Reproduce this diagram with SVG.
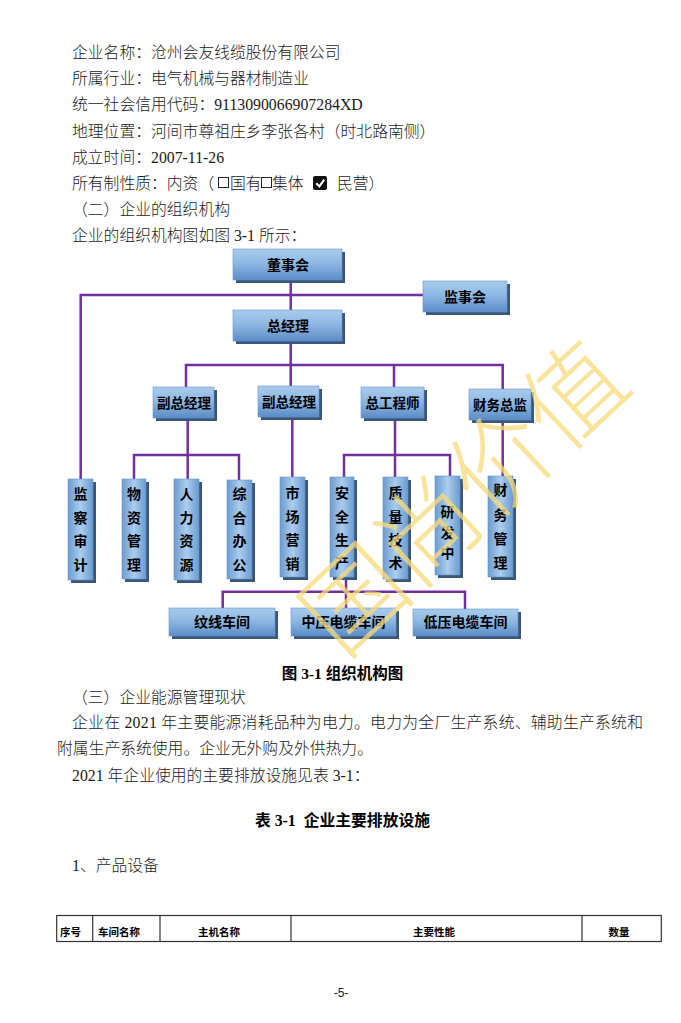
<svg xmlns="http://www.w3.org/2000/svg" width="681" height="1023" viewBox="0 0 681 1023">
<style>
.t{font-family:'Liberation Serif','Noto Sans CJK SC',serif;font-size:15.8px;font-weight:300;fill:#1a1a1a}
.b{font-family:'Liberation Serif','Noto Sans CJK SC',serif;font-size:15.5px;font-weight:700;fill:#000}
.lbl{font-family:'Noto Sans CJK SC',sans-serif;font-size:14px;font-weight:700;fill:#000;text-anchor:middle}
.lbs{font-family:'Noto Sans CJK SC',sans-serif;font-size:13.5px;font-weight:700;fill:#000;text-anchor:middle}
.th{font-family:'Noto Sans CJK SC',sans-serif;font-size:10.5px;font-weight:700;fill:#000}
.conn{stroke:#7030A0;stroke-width:2.5;fill:none}
.sh{fill:#3a5678}
.hb{fill:url(#gh);stroke:#6a95c8;stroke-width:0.6}
.vb{fill:url(#gv);stroke:#6a95c8;stroke-width:0.6}
.grid{stroke:#333;stroke-width:1.2;fill:none}
.wm{font-family:'Noto Sans CJK SC',sans-serif;font-size:100px;font-weight:300;fill:#F9DC7A;opacity:0.75}
</style>
<defs>
<linearGradient id="gh" x1="0" y1="0" x2="0" y2="1">
<stop offset="0" stop-color="#a9cbec"/>
<stop offset="0.45" stop-color="#8eb9e4"/>
<stop offset="1" stop-color="#5b8cc6"/>
</linearGradient>
<linearGradient id="gv" x1="0" y1="0" x2="1" y2="0">
<stop offset="0" stop-color="#6b9bd0"/>
<stop offset="0.5" stop-color="#abcdee"/>
<stop offset="1" stop-color="#6b9bd0"/>
</linearGradient>
</defs>
<rect width="681" height="1023" fill="#fff"/>

<g id="intro">
<text class="t" x="72" y="58">企业名称：沧州会友线缆股份有限公司</text>
<text class="t" x="72" y="84">所属行业：电气机械与器材制造业</text>
<text class="t" x="72" y="110">统一社会信用代码：9113090066907284XD</text>
<text class="t" x="72" y="136.5">地理位置：河间市尊祖庄乡李张各村（时北路南侧）</text>
<text class="t" x="72" y="162.5">成立时间：2007-11-26</text>
<text class="t" x="72" y="189">所有制性质：内资（</text>
<rect x="218.5" y="177.5" width="10" height="10" fill="none" stroke="#222" stroke-width="1"/>
<text class="t" x="230" y="189">国有</text>
<rect x="261.5" y="177.5" width="10" height="10" fill="none" stroke="#222" stroke-width="1"/>
<text class="t" x="272" y="189">集体</text>
<rect x="313" y="176" width="14" height="14" rx="2" fill="#111"/>
<path d="M316.3,183.2 L319.4,186.4 L324.2,179.6" stroke="#fff" stroke-width="2" fill="none"/>
<text class="t" x="337" y="189">民营）</text>
<text class="t" x="72" y="215">（二）企业的组织机构</text>
<text class="t" x="72" y="241">企业的组织机构图如图 3-1 所示：</text>
</g>

<g id="connectors">
<path class="conn" d="M80.7,479 V295 H423"/>
<path class="conn" d="M290.7,280 V310"/>
<path class="conn" d="M290.7,341 V365"/>
<path class="conn" d="M186,387 V365 H502.7 V389"/>
<path class="conn" d="M290.7,365 V386"/>
<path class="conn" d="M394,365 V387"/>
<path class="conn" d="M187.7,418 V455"/>
<path class="conn" d="M134,479 V455 H239 V480"/>
<path class="conn" d="M187.7,455 V479"/>
<path class="conn" d="M292.3,417 V477"/>
<path class="conn" d="M395,418 V477"/>
<path class="conn" d="M344,477 V455 H450 V476"/>
<path class="conn" d="M502.7,420 V476"/>
<path class="conn" d="M346,577 V608"/>
<path class="conn" d="M222.7,608 V591.7 H465 V609"/>
</g>

<g id="n-dongshihui"><rect class="sh" x="236" y="252" width="109" height="31"/><rect class="hb" x="233" y="249" width="109" height="31"/><text class="lbl" x="288" y="270">董事会</text></g>
<g id="n-jianshihui"><rect class="sh" x="426" y="284" width="84" height="31"/><rect class="hb" x="423" y="281" width="84" height="31"/><text class="lbl" x="465" y="302">监事会</text></g>
<g id="n-zongjingli"><rect class="sh" x="236" y="313" width="109" height="31"/><rect class="hb" x="233" y="310" width="109" height="31"/><text class="lbl" x="288" y="331">总经理</text></g>
<g id="n-fuzong1"><rect class="sh" x="156" y="390" width="61" height="31"/><rect class="hb" x="153" y="387" width="61" height="31"/><text class="lbs" x="184" y="408">副总经理</text></g>
<g id="n-fuzong2"><rect class="sh" x="261" y="389" width="61" height="31"/><rect class="hb" x="258" y="386" width="61" height="31"/><text class="lbs" x="289" y="407">副总经理</text></g>
<g id="n-zonggong"><rect class="sh" x="364" y="390" width="63" height="31"/><rect class="hb" x="361" y="387" width="63" height="31"/><text class="lbs" x="392.5" y="408">总工程师</text></g>
<g id="n-caiwuzongjian"><rect class="sh" x="472" y="392" width="62" height="31"/><rect class="hb" x="469" y="389" width="62" height="31"/><text class="lbs" x="500" y="410">财务总监</text></g>

<g id="n-jiancha"><rect class="sh" x="71" y="482" width="25" height="101"/><rect class="vb" x="68" y="479" width="25" height="101"/><text class="lbl"><tspan x="80.5" y="499">监</tspan><tspan x="80.5" y="522.5">察</tspan><tspan x="80.5" y="546">审</tspan><tspan x="80.5" y="569.5">计</tspan></text></g>
<g id="n-wuzi"><rect class="sh" x="125" y="482" width="24" height="100"/><rect class="vb" x="122" y="479" width="24" height="100"/><text class="lbl"><tspan x="134" y="499">物</tspan><tspan x="134" y="522.5">资</tspan><tspan x="134" y="546">管</tspan><tspan x="134" y="569.5">理</tspan></text></g>
<g id="n-renli"><rect class="sh" x="177" y="482" width="25" height="101"/><rect class="vb" x="174" y="479" width="25" height="101"/><text class="lbl"><tspan x="186.5" y="499">人</tspan><tspan x="186.5" y="522.5">力</tspan><tspan x="186.5" y="546">资</tspan><tspan x="186.5" y="569.5">源</tspan></text></g>
<g id="n-zonghe"><rect class="sh" x="230" y="483" width="25" height="99"/><rect class="vb" x="227" y="480" width="25" height="99"/><text class="lbl"><tspan x="239.5" y="499">综</tspan><tspan x="239.5" y="522.5">合</tspan><tspan x="239.5" y="546">办</tspan><tspan x="239.5" y="569.5">公</tspan></text></g>
<g id="n-shichang"><rect class="sh" x="283" y="480" width="25" height="100"/><rect class="vb" x="280" y="477" width="25" height="100"/><text class="lbl"><tspan x="292.5" y="498">市</tspan><tspan x="292.5" y="521.5">场</tspan><tspan x="292.5" y="545">营</tspan><tspan x="292.5" y="568.5">销</tspan></text></g>
<g id="n-anquan"><rect class="sh" x="333" y="480" width="24" height="100"/><rect class="vb" x="330" y="477" width="24" height="100"/><text class="lbl"><tspan x="342" y="498">安</tspan><tspan x="342" y="521.5">全</tspan><tspan x="342" y="545">生</tspan><tspan x="342" y="568">产</tspan></text></g>
<g id="n-zhiliang"><rect class="sh" x="386" y="480" width="25" height="102"/><rect class="vb" x="383" y="477" width="25" height="102"/><text class="lbl"><tspan x="395.5" y="498">质</tspan><tspan x="395.5" y="521.5">量</tspan><tspan x="395.5" y="545">技</tspan><tspan x="395.5" y="568">术</tspan></text></g>
<g id="n-yanfa"><rect class="sh" x="438" y="479" width="25" height="99"/><rect class="vb" x="435" y="476" width="25" height="99"/><text class="lbl"><tspan x="447.5" y="517">研</tspan><tspan x="447.5" y="538">发</tspan><tspan x="447.5" y="558">中</tspan></text></g>
<g id="n-caiwu"><rect class="sh" x="491" y="479" width="25" height="101"/><rect class="vb" x="488" y="476" width="25" height="101"/><text class="lbl"><tspan x="500.5" y="495">财</tspan><tspan x="500.5" y="519.5">务</tspan><tspan x="500.5" y="544">管</tspan><tspan x="500.5" y="568">理</tspan></text></g>

<g id="n-jiaoxian"><rect class="sh" x="172" y="611" width="106" height="28"/><rect class="hb" x="169" y="608" width="106" height="28"/><text class="lbl" x="222" y="627">纹线车间</text></g>
<g id="n-zhongya"><rect class="sh" x="294" y="611" width="105" height="28"/><rect class="hb" x="291" y="608" width="105" height="28"/><text class="lbl" x="343.5" y="627">中压电缆车间</text></g>
<g id="n-diya"><rect class="sh" x="416" y="612" width="105" height="27"/><rect class="hb" x="413" y="609" width="105" height="27"/><text class="lbl" x="465.5" y="627">低压电缆车间</text></g>

<text class="wm" transform="translate(464,497) rotate(-43)" x="0" y="36" text-anchor="middle">国尚价值</text>

<g id="body">
<text class="b" x="342.5" y="679" text-anchor="middle">图 3-1 组织机构图</text>
<text class="t" x="72" y="703">（三）企业能源管理现状</text>
<text class="t" x="72" y="728" textLength="571" lengthAdjust="spacing">企业在 2021 年主要能源消耗品种为电力。电力为全厂生产系统、辅助生产系统和</text>
<text class="t" x="57" y="754">附属生产系统使用。企业无外购及外供热力。</text>
<text class="t" x="72" y="780.5">2021 年企业使用的主要排放设施见表 3-1：</text>
<text class="b" x="342.5" y="826" text-anchor="middle" style="font-size:15.8px" xml:space="preserve">表 3-1  企业主要排放设施</text>
<text class="t" x="72" y="871">1、产品设备</text>
</g>

<g id="table">
<rect class="grid" x="56.7" y="915.5" width="604.6" height="26"/>
<line class="grid" x1="92.7" y1="915.5" x2="92.7" y2="941.5"/>
<line class="grid" x1="160" y1="915.5" x2="160" y2="941.5"/>
<line class="grid" x1="291" y1="915.5" x2="291" y2="941.5"/>
<line class="grid" x1="582" y1="915.5" x2="582" y2="941.5"/>
<text class="th" x="60" y="936">序号</text>
<text class="th" x="98" y="936">车间名称</text>
<text class="th" x="219" y="936" text-anchor="middle">主机名称</text>
<text class="th" x="434" y="936" text-anchor="middle">主要性能</text>
<text class="th" x="619" y="936" text-anchor="middle">数量</text>
</g>

<text x="341" y="997" text-anchor="middle" font-family="'Liberation Sans',sans-serif" font-size="12" fill="#222">-5-</text>
</svg>
